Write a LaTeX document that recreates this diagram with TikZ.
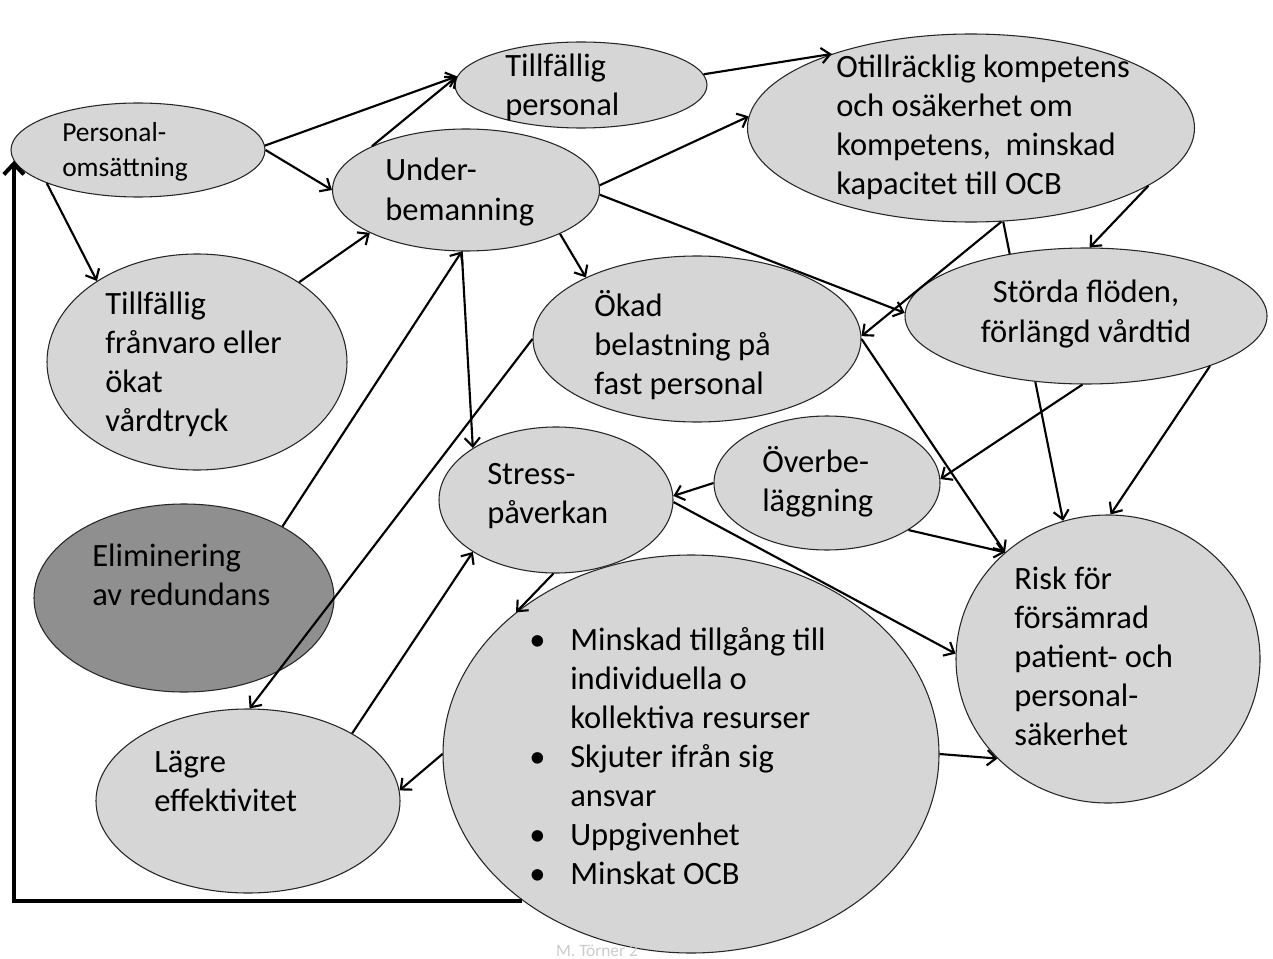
\documentclass[tikz,border=0pt]{standalone}
\usepackage{fontspec}
\setmainfont{Carlito}
\usetikzlibrary{shapes.geometric,arrows.meta,backgrounds}
\begin{document}
\begin{tikzpicture}[x=0.75pt,y=-0.75pt,
  ell/.style n args={2}{ellipse,draw=black!85,line width=0.8pt,fill=black!16,
    inner sep=0pt,minimum width=#1*0.75pt,minimum height=#2*0.75pt},
  darkfill/.style={fill=black!44},
  txt/.style={anchor=west,align=left,inner sep=0pt,
    font=\fontsize{24.4}{29.3}\selectfont},
  conn/.style={line width=1.6pt,-{Straight Barb[length=6.5pt,width=11.5pt]}},
  backarrow/.style={line width=3pt,-{Straight Barb[length=8pt,width=15pt]}}]

\useasboundingbox (0,0) rectangle (1273,959);

% ellipses
\node[ell={254}{94}]  (pers)   at (138,150)  {};
\node[ell={252}{86}]  (tpers)  at (581,85)   {};
\node[ell={267}{122}] (under)  at (466,190)  {};
\node[ell={447}{188}] (otill)  at (971,128)  {};
\node[ell={362}{136}] (storda) at (1086,316) {};
\node[ell={300}{216}] (franv)  at (197,362)  {};
\node[ell={328}{166}] (okad)   at (697,339)  {};
\node[ell={234}{146}] (stress) at (556,500)  {};
\node[ell={226}{134}] (over)   at (827,483)  {};
\node[ell={300}{188},darkfill] (elim) at (184,598) {};
\node[ell={304}{184}] (lagre)  at (248,801)  {};
\node[ell={496}{398}] (big)    at (691,754)  {};
\node[ell={304}{288}] (risk)   at (1108,659) {};

% labels
\node[txt,font=\fontsize{20.6}{26.3}\selectfont] (tPers) at (62,152) {Personal-\\omsättning};
\node[txt] (tTpers)  at (505,87)  {Tillfällig\\personal};
\node[txt] (tUnder)  at (385,192) {Under-\\bemanning};
\node[txt] (tOtill)  at (836,127) {Otillräcklig kompetens\\och osäkerhet om\\kompetens,\ \ minskad\\kapacitet till OCB};
\node[txt,anchor=center,align=center] (tStorda) at (1086,314) {Störda flöden,\\förlängd vårdtid};
\node[txt] (tFranv)  at (105,364) {Tillfällig\\frånvaro eller\\ökat\\vårdtryck};
\node[txt] (tOkad)   at (594,345) {Ökad\\belastning på\\fast personal};
\node[txt] (tStress) at (487,496) {Stress-\\påverkan};
\node[txt] (tOver)   at (762,482) {Överbe-\\läggning};
\node[txt] (tElim)   at (92,575)  {Eliminering\\av redundans};
\node[txt] (tLagre)  at (154,781) {Lägre\\effektivitet};
\node[txt] (tRisk)   at (1014,656) {Risk för\\försämrad\\patient- och\\personal-\\säkerhet};
\node[txt] (tBig)    at (529,756) {%
  \makebox[30.75pt][l]{\textbullet}Minskad tillgång till\\
  \makebox[30.75pt][l]{}individuella o\\
  \makebox[30.75pt][l]{}kollektiva resurser\\
  \makebox[30.75pt][l]{\textbullet}Skjuter ifrån sig\\
  \makebox[30.75pt][l]{}ansvar\\
  \makebox[30.75pt][l]{\textbullet}Uppgivenhet\\
  \makebox[30.75pt][l]{\textbullet}Minskat OCB};
\node[inner sep=0pt,font=\fontsize{13}{15}\selectfont,text=black!20] (foot) at (597,951) {M. Törner 2};

% connectors
\begin{pgfonlayer}{background}
  \fill[white] (0,0) rectangle (1273,959);
  \draw[conn] (otill.289) -- (risk.108);
\end{pgfonlayer}
\draw[conn] (pers.2) -- (tpers.176);
\draw[conn] (pers.0) -- (under.180);
\draw[conn] (pers.200) -- (franv.141);
\draw[conn] (under.155) -- (tpers.176);
\draw[conn] (tpers.5) -- (otill.152);
\draw[conn] (under.2) -- (otill.177);
\draw[conn] (under.358) -- (storda.179);
\draw[conn] (under.335) -- (okad.151);
\draw[conn] (under.266) -- (stress.148);
\draw[conn] (elim.36) -- (under.266);
\draw[conn] (franv.38) -- (under.204);
\draw[conn] (okad.180) -- (lagre.89);
\draw[conn] (otill.288) -- (okad.1);
\draw[conn] (otill.342) -- (storda.87);
\draw[conn] (storda.267) -- (over.2);
\draw[conn] (storda.338) -- (risk.89);
\draw[conn] (okad.0) -- (risk.134);
\draw[conn] (over.330) -- (risk.134);
\draw[conn] (over.180) -- (stress.2);
\draw[conn] (stress.359) -- (risk.178);
\draw[conn] (stress.268) -- (big.141);
\draw[conn] (lagre.33) -- (stress.212);
\draw[conn] (big.180) -- (lagre.4);
\draw[conn] (big.0) -- (risk.222);
\draw[backarrow] (big.221) -| (pers.185);
\end{tikzpicture}
\end{document}
